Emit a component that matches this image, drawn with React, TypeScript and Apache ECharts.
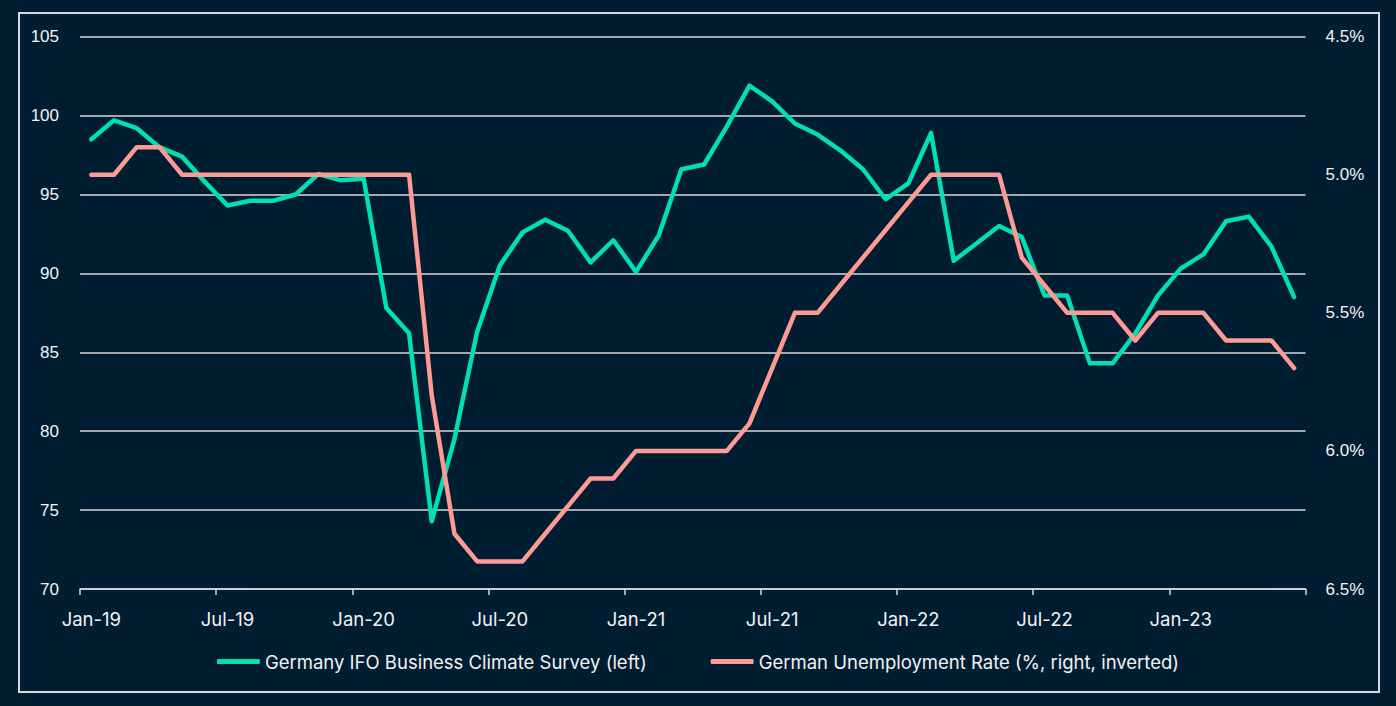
import React, { useEffect, useRef } from "react";
import * as echarts from "echarts";

const months: string[] = [
  "Jan-19", "Feb-19", "Mar-19", "Apr-19", "May-19", "Jun-19", "Jul-19", "Aug-19", "Sep-19", "Oct-19", "Nov-19", "Dec-19",
  "Jan-20", "Feb-20", "Mar-20", "Apr-20", "May-20", "Jun-20", "Jul-20", "Aug-20", "Sep-20", "Oct-20", "Nov-20", "Dec-20",
  "Jan-21", "Feb-21", "Mar-21", "Apr-21", "May-21", "Jun-21", "Jul-21", "Aug-21", "Sep-21", "Oct-21", "Nov-21", "Dec-21",
  "Jan-22", "Feb-22", "Mar-22", "Apr-22", "May-22", "Jun-22", "Jul-22", "Aug-22", "Sep-22", "Oct-22", "Nov-22", "Dec-22",
  "Jan-23", "Feb-23", "Mar-23", "Apr-23", "May-23", "Jun-23",
];

const ifoBusinessClimate: number[] = [
  98.5, 99.7, 99.2, 98.0, 97.4, 95.8, 94.3, 94.6, 94.6, 95.0, 96.3, 95.9,
  96.0, 87.8, 86.2, 74.3, 79.5, 86.3, 90.5, 92.6, 93.4, 92.7, 90.7, 92.1,
  90.1, 92.4, 96.6, 96.9, 99.3, 101.9, 100.9, 99.5, 98.8, 97.8, 96.6, 94.7,
  95.7, 98.9, 90.8, 91.9, 93.0, 92.3, 88.6, 88.6, 84.3, 84.3, 86.2, 88.6,
  90.3, 91.2, 93.3, 93.6, 91.7, 88.5,
];

const unemploymentRate: number[] = [
  5.0, 5.0, 4.9, 4.9, 5.0, 5.0, 5.0, 5.0, 5.0, 5.0, 5.0, 5.0,
  5.0, 5.0, 5.0, 5.8, 6.3, 6.4, 6.4, 6.4, 6.3, 6.2, 6.1, 6.1,
  6.0, 6.0, 6.0, 6.0, 6.0, 5.9, 5.7, 5.5, 5.5, 5.4, 5.3, 5.2,
  5.1, 5.0, 5.0, 5.0, 5.0, 5.3, 5.4, 5.5, 5.5, 5.5, 5.6, 5.5,
  5.5, 5.5, 5.6, 5.6, 5.6, 5.7,
];

const seriesNames: string[] = [
  "Germany IFO Business Climate Survey (left)",
  "German Unemployment Rate (%, right, inverted)",
];

const BG = "#011d32";
const GREEN = "#00e0b4";
const PINK = "#fd9a94";
const GRID = "#d9d9d9";
const TEXT = "#f2f2f2";
const SANS = "Inter, 'Noto Sans', sans-serif";
const ARIAL = "'Liberation Sans', Arial, sans-serif";

export default function App() {
  const ref = useRef<HTMLDivElement>(null);

  useEffect(() => {
    if (!ref.current) return;
    const chart = echarts.init(ref.current, undefined, { renderer: "svg" });
    chart.setOption({
      animation: false,
      backgroundColor: BG,
      graphic: [
        {
          type: "rect",
          shape: { x: 19, y: 13, width: 1360, height: 679 },
          style: { fill: "none", stroke: GRID, lineWidth: 2 },
          silent: true,
        },
      ],
      grid: { left: 80, right: 90.5, top: 36.7, bottom: 117, containLabel: false },
      legend: {
        data: seriesNames,
        left: "center",
        top: 647,
        icon: "roundRect",
        itemWidth: 43,
        itemHeight: 5,
        itemGap: 64,
        textStyle: { color: TEXT, fontSize: 18.5, fontFamily: SANS },
      },
      xAxis: {
        type: "category",
        data: months,
        boundaryGap: true,
        axisLine: { show: true, lineStyle: { color: GRID, width: 1.5 } },
        axisTick: { show: true, interval: 5, length: 6, lineStyle: { color: GRID, width: 1.5 } },
        axisLabel: { interval: 5, color: TEXT, fontSize: 18.5, fontFamily: SANS, margin: 20 },
        splitLine: { show: false },
      },
      yAxis: [
        {
          type: "value",
          min: 70,
          max: 105,
          interval: 5,
          position: "left",
          axisLine: { show: false },
          axisTick: { show: false },
          axisLabel: { color: TEXT, fontSize: 17, fontFamily: ARIAL, margin: 21 },
          splitLine: { show: true, lineStyle: { color: GRID, width: 1.5 } },
        },
        {
          type: "value",
          min: 4.5,
          max: 6.5,
          interval: 0.5,
          inverse: true,
          position: "right",
          axisLine: { show: false },
          axisTick: { show: false },
          axisLabel: {
            color: TEXT,
            fontSize: 17,
            fontFamily: ARIAL,
            margin: 20,
            formatter: (v: number) => v.toFixed(1) + "%",
          },
          splitLine: { show: false },
        },
      ],
      series: [
        {
          name: seriesNames[0],
          type: "line",
          data: ifoBusinessClimate,
          yAxisIndex: 0,
          symbol: "none",
          lineStyle: { color: GREEN, width: 4.5, cap: "round", join: "round" },
          itemStyle: { color: GREEN },
        },
        {
          name: seriesNames[1],
          type: "line",
          data: unemploymentRate,
          yAxisIndex: 1,
          symbol: "none",
          lineStyle: { color: PINK, width: 4.5, cap: "round", join: "round" },
          itemStyle: { color: PINK },
        },
      ],
    });
    return () => chart.dispose();
  }, []);

  return (
    <div
      ref={ref}
      style={{ position: "fixed", left: 0, top: 0, width: 1396, height: 706 }}
    />
  );
}
